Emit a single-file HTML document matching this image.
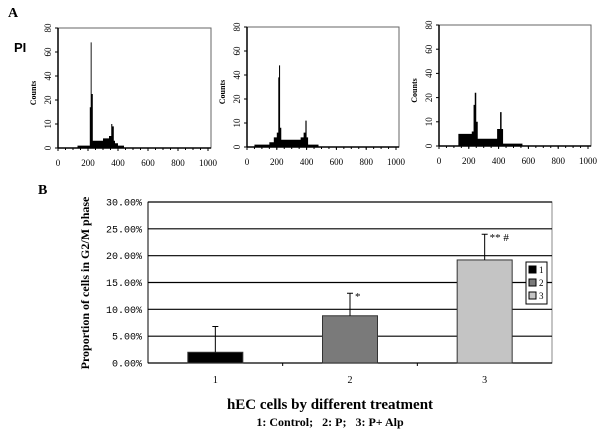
<!DOCTYPE html>
<html><head><meta charset="utf-8"><style>
body{margin:0;background:#fff;width:600px;height:433px;overflow:hidden}
svg{display:block}
</style></head><body>
<svg id="fig" width="600" height="433" xmlns="http://www.w3.org/2000/svg" font-family="Liberation Serif, serif">
<text x="8" y="17" font-size="14" font-weight="bold">A</text>
<text x="14" y="52" font-size="13" font-weight="bold" font-family="Liberation Sans, sans-serif">PI</text>
<text x="38" y="194" font-size="14" font-weight="bold">B</text>
<g id="hists"></g>
<g id="bars"></g>
</svg>
<script>
// Histogram data: [channel, count] step points
const hist1X=[0,130,200,212,218,224,232,300,340,355,362,372,380,400,440,1000];
const hist1Y=[0,1,1,17,68,25,3,4,5,10,9,3,2,1,0,0];
const hist2X=[0,50,150,180,200,210,215,222,230,300,360,380,392,400,410,480,1000];
const hist2Y=[0,1,2,4,6,38,48,8,3,3,4,6,11,4,1,0,0];
const hist3X=[0,130,200,220,232,240,250,260,370,390,410,420,430,560,1000];
const hist3Y=[0,5,5,6,17,24,10,3,3,7,14,7,1,0,0];
const histXTicks=[0,200,400,600,800,1000];
const histYTicks=[0,10,20,40,60,80];
// bar chart data
const categories=["1","2","3"];
const values=[2.0,8.8,19.2];
const errors=[4.8,4.2,4.8];
const annotations=["","*","** #"];
const yTicks=[0,5,10,15,20,25,30];
const yTickLabels=["0.00%","5.00%","10.00%","15.00%","20.00%","25.00%","30.00%"];
const barColors=["#000000","#7a7a7a","#c4c4c4"];

const NS="http://www.w3.org/2000/svg";
function el(tag,attrs,parent,text){const e=document.createElementNS(NS,tag);for(const k in attrs)e.setAttribute(k,attrs[k]);if(text!==undefined)e.textContent=text;parent.appendChild(e);return e;}

const hg=document.getElementById('hists');
const panels=[{l:58,r:211,t:28,b:148,xs:hist1X,ys:hist1Y},{l:247,r:399,t:27,b:147,xs:hist2X,ys:hist2Y},{l:439,r:591,t:25,b:146,xs:hist3X,ys:hist3Y}];
panels.forEach((p,i)=>{
  const g=el('g',{},hg);
  
  
  const xs=v=>p.l+(v/1000)*(p.r-p.l-3);
  const ys=v=>{let k=0;while(k<histYTicks.length-2&&v>histYTicks[k+1])k++;const f=(v-histYTicks[k])/(histYTicks[k+1]-histYTicks[k]);const step=(p.b-p.t)/(histYTicks.length-1);return p.b-(k+f)*step;};
  let d='M'+xs(p.xs[0])+','+p.b;
  for(let j=0;j<p.xs.length-1;j++){d+=' L'+xs(p.xs[j])+','+ys(p.ys[j])+' L'+xs(p.xs[j+1])+','+ys(p.ys[j]);}
  d+=' L'+xs(p.xs[p.xs.length-1])+','+p.b+' Z';
  const path=el('path',{d:d,fill:'#000'},g);
  
  
  const box=el('rect',{x:p.l,y:p.t,width:p.r-p.l,height:p.b-p.t,fill:'none',stroke:'#666','stroke-width':1},g);
  
  
  el('line',{x1:p.l,y1:p.t,x2:p.l,y2:p.b,stroke:'#000','stroke-width':1.5},g);
  el('line',{x1:p.l,y1:p.b,x2:p.r,y2:p.b,stroke:'#000','stroke-width':1.5},g);
  histXTicks.forEach(v=>{
    const x=xs(v);
    el('line',{x1:x,y1:p.b,x2:x,y2:p.b+3,stroke:'#000'},g);
    const t=el('text',{x:x,y:p.b+18,'font-size':9,'text-anchor':'middle'},g,v);
    
    
  });
  for(let m=0;m<=1000;m+=50){el('line',{x1:xs(m),y1:p.b,x2:xs(m),y2:p.b+2,stroke:'#000'},g);}
  histYTicks.forEach(v=>{
    const y=ys(v);
    el('line',{x1:p.l-3,y1:y,x2:p.l,y2:y,stroke:'#000'},g);
    const t=el('text',{x:p.l-7,y:y,'font-size':9,'text-anchor':'middle',transform:'rotate(-90 '+(p.l-7)+' '+y+')'},g,v);
    
    
  });
  const cy=(p.t+p.b)/2+5;
  const ct=el('text',{x:p.l-22,y:cy,'font-size':8,'font-weight':'bold','text-anchor':'middle',transform:'rotate(-90 '+(p.l-22)+' '+cy+')'},g,'Counts');
  
  
});

// Bar chart
const bg=document.getElementById('bars');
const L=148,R=552,T=202,B=363,yMax=30;
const yS=v=>B-(v/yMax)*(B-T);
const catW=(R-L)/categories.length;
const xC=i=>L+catW*(i+0.5);
const plot=el('rect',{x:L,y:T,width:R-L,height:B-T,fill:'#fff',stroke:'#888'},bg);


yTicks.forEach((v,i)=>{
  const y=yS(v);
  const gl=el('line',{x1:L,y1:y,x2:R,y2:y,stroke:'#000','stroke-width':1.2},bg);
  
  
  const t=el('text',{x:L-6,y:y+3.5,'font-size':10,'text-anchor':'end','font-family':'Liberation Mono, monospace'},bg,yTickLabels[i]);
  
  
});
el('line',{x1:L,y1:T,x2:L,y2:B,stroke:'#000'},bg);
for(let i=1;i<categories.length;i++){el('line',{x1:L+catW*i,y1:B,x2:L+catW*i,y2:B+3,stroke:'#000'},bg);}
categories.forEach((c,i)=>{
  const x=xC(i),w=55;
  const r=el('rect',{x:x-w/2,y:yS(values[i]),width:w,height:B-yS(values[i]),fill:barColors[i],stroke:'#333'},bg);
  
  
  const et=yS(values[i]+errors[i]);
  const e=el('path',{d:'M'+x+','+yS(values[i])+' V'+et+' M'+(x-3)+','+et+' H'+(x+3),stroke:'#000',fill:'none'},bg);
  
  
  if(annotations[i]){
    const a=el('text',{x:x+5,y:et+7,'font-size':11},bg,annotations[i]);
    
    
  }
  const xl=el('text',{x:x,y:B+20,'font-size':10,'text-anchor':'middle'},bg,c);
  
  
});
const lg=el('g',{},bg);


el('rect',{x:526,y:262,width:21,height:42,fill:'#fff',stroke:'#000'},lg);
categories.forEach((c,i)=>{
  const y=266+i*13;
  const sw=el('rect',{x:529,y:y,width:7,height:7,fill:barColors[i],stroke:'#000'},lg);
  
  
  const t=el('text',{x:539,y:y+7,'font-size':9},lg,c);
  
  
});
const yt=el('text',{x:89,y:283,'font-size':12,'font-weight':'bold','text-anchor':'middle',transform:'rotate(-90 89 283)'},bg,'Proportion of cells in G2/M phase');


const xt=el('text',{x:330,y:409,'font-size':15,'font-weight':'bold','text-anchor':'middle'},bg,'hEC cells by different treatment');


const xt2=el('text',{x:330,y:426,'font-size':12,'font-weight':'bold','text-anchor':'middle'},bg,'1: Control;\u00a0\u00a0\u00a02: P;\u00a0\u00a0\u00a03: P+ Alp');


</script>
</body></html>
